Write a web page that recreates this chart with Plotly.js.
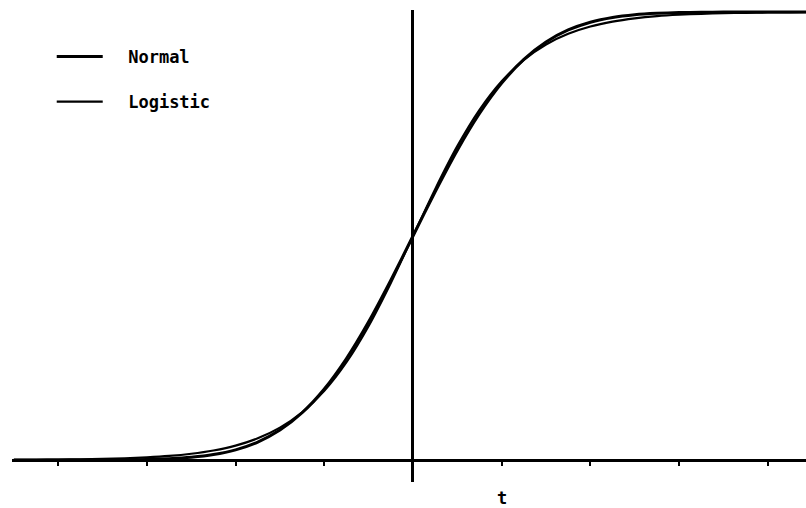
<!DOCTYPE html>
<html>
<head>
<meta charset="utf-8">
<script src="https://cdn.plot.ly/plotly-3.0.1.min.js"></script>
<style>
  html, body { margin: 0; padding: 0; background: #fff; }
  #chart { width: 806px; height: 508px; }
</style>
</head>
<body>
<div id="chart"></div>
<script>
// Cumulative distribution curves sampled every 0.25 on t
const tValues = [
  -4.5, -4.25, -4, -3.75, -3.5, -3.25, -3, -2.75, -2.5, -2.25, -2, -1.75, -1.5, -1.25, -1, -0.75, -0.5, -0.25,
  0, 0.25, 0.5, 0.75, 1, 1.25, 1.5, 1.75, 2, 2.25, 2.5, 2.75, 3, 3.25, 3.5, 3.75, 4, 4.25, 4.5
];
const normalValues = [
  0.0000, 0.0000, 0.0000, 0.0001, 0.0002, 0.0006, 0.0013, 0.0030, 0.0062, 0.0122, 0.0228, 0.0401, 0.0668, 0.1056, 0.1587, 0.2266, 0.3085, 0.4013,
  0.5000, 0.5987, 0.6915, 0.7734, 0.8413, 0.8944, 0.9332, 0.9599, 0.9772, 0.9878, 0.9938, 0.9970, 0.9987, 0.9994, 0.9998, 0.9999, 1.0000, 1.0000, 1.0000
];
const logisticValues = [
  0.0005, 0.0007, 0.0011, 0.0017, 0.0026, 0.0040, 0.0061, 0.0092, 0.0141, 0.0214, 0.0323, 0.0486, 0.0724, 0.1067, 0.1545, 0.2184, 0.2994, 0.3953,
  0.5000, 0.6047, 0.7006, 0.7816, 0.8455, 0.8933, 0.9276, 0.9514, 0.9677, 0.9786, 0.9859, 0.9908, 0.9939, 0.9960, 0.9974, 0.9983, 0.9989, 0.9993, 0.9995
];
const seriesNames = ['Normal', 'Logistic'];
const axisLabel = 't';

const FONT = { family: 'DejaVu Sans Mono, monospace', size: 17, color: '#000' };
const yRange = [-0.049, 1.0045];
const GAP = '\u00a0\u00a0'; // extra room between legend line and its label

const traces = [
  {
    x: tValues, y: normalValues, name: GAP + seriesNames[0], type: 'scatter', mode: 'lines',
    line: { color: '#000', width: 3, shape: 'spline', smoothing: 0.6 },
    legend: 'legend', hoverinfo: 'skip'
  },
  {
    x: tValues, y: logisticValues, name: GAP + seriesNames[1], type: 'scatter', mode: 'lines',
    line: { color: '#000', width: 2.2, shape: 'spline', smoothing: 0.6 },
    legend: 'legend2', hoverinfo: 'skip'
  }
];

const legendBase = {
  xanchor: 'left', yanchor: 'middle', bgcolor: 'rgba(0,0,0,0)', borderwidth: 0,
  font: { ...FONT, weight: 'bold' }, itemwidth: 46
};
const legendX = 0.045 + 4 / 794;

const layout = {
  width: 806, height: 508,
  margin: { l: 12, r: 0, t: 10, b: 26 },
  paper_bgcolor: '#fff', plot_bgcolor: '#fff',
  showlegend: true,
  legend:  { ...legendBase, x: legendX, y: (482 - 57) / 472 },
  legend2: { ...legendBase, x: legendX, y: (482 - 102) / 472 },
  xaxis: {
    range: [-4.521, 4.431],
    showgrid: false, showline: false, showticklabels: false,
    zeroline: true, zerolinecolor: '#000', zerolinewidth: 3,
    ticks: 'outside', ticklen: 5, tickwidth: 2, tickcolor: '#000',
    tick0: 0, dtick: 1,
    anchor: 'free', position: (0 - yRange[0]) / (yRange[1] - yRange[0]),
    fixedrange: true
  },
  yaxis: {
    range: yRange,
    showgrid: false, showline: false, showticklabels: false, ticks: '',
    zeroline: true, zerolinecolor: '#000', zerolinewidth: 3,
    fixedrange: true
  },
  annotations: [
    {
      x: 1, y: (482 - 498) / 472, xref: 'x', yref: 'paper', text: axisLabel, showarrow: false,
      font: { ...FONT, weight: 'bold' }, xanchor: 'center', yanchor: 'middle'
    }
  ]
};

Plotly.newPlot('chart', traces, layout, { displayModeBar: false, staticPlot: true });
</script>
</body>
</html>
